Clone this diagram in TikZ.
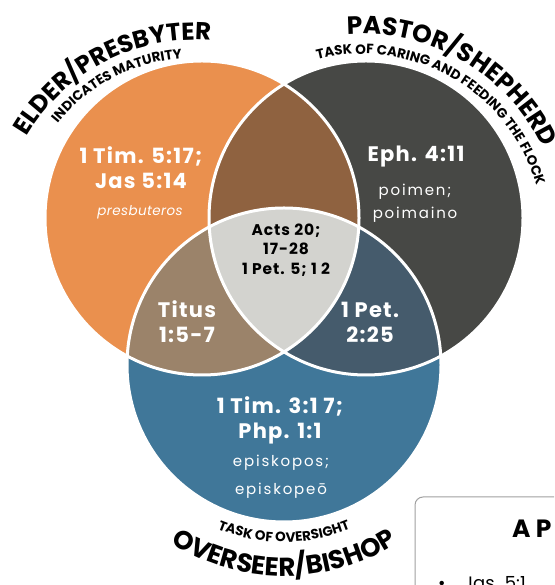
\documentclass[tikz,border=0pt]{standalone}
\usepackage{fontspec}
\setmainfont{Poppins}
\usetikzlibrary{decorations.text}
\definecolor{corange}{HTML}{EA904E}
\definecolor{cdark}{HTML}{474845}
\definecolor{cblue}{HTML}{407799}
\definecolor{cbrown}{HTML}{8F6240}
\definecolor{ctaupe}{HTML}{9B836A}
\definecolor{cslate}{HTML}{455B6C}
\definecolor{cgrey}{HTML}{D3D3CF}
\definecolor{cbox}{HTML}{A0A0A0}
\tikzset{
  reftext/.style={text=white, font=\bfseries\fontsize{21}{25}\selectfont\addfontfeatures{LetterSpace=6}, align=center, inner sep=0pt},
  centertext/.style={text=black, font=\bfseries\fontsize{15.5}{19.5}\selectfont\addfontfeatures{LetterSpace=6}, align=center, inner sep=0pt},
  wordtext/.style={text=white, font=\fontsize{15}{23}\selectfont\addfontfeatures{LetterSpace=12}, align=center, inner sep=0pt},
  ring/.style={draw=white, line width=3pt},
  bigarc/.style 2 args={decorate, decoration={text along path, text align=center,
      text={|\bfseries\fontsize{#1}{#1}\selectfont|#2}}},
  smallarc/.style={decorate, decoration={text along path, text align=center,
      text={|\fontseries{sb}\selectfont\fontsize{13.5}{14}\selectfont|#1}}},
}
\begin{document}
\begin{tikzpicture}[x=1pt,y=1pt]
\useasboundingbox (0,0) rectangle (554,585);
\clip (0,0) rectangle (554,585);
\coordinate (O) at (202,367);
\coordinate (D) at (366,367);
\coordinate (B) at (284,220);
\def\R{157}
% fills
\fill[corange] (O) circle (\R);
\fill[cdark] (D) circle (\R);
\fill[cblue] (B) circle (\R);
\begin{scope}\clip (O) circle (\R); \fill[cbrown] (D) circle (\R);\end{scope}
\begin{scope}\clip (O) circle (\R); \fill[ctaupe] (B) circle (\R);\end{scope}
\begin{scope}\clip (D) circle (\R); \fill[cslate] (B) circle (\R);\end{scope}
\begin{scope}\clip (O) circle (\R); \clip (D) circle (\R); \fill[cgrey] (B) circle (\R);\end{scope}
\draw[ring] (O) circle (\R);
\draw[ring] (D) circle (\R);
\draw[ring] (B) circle (\R);
% curved labels
\coordinate (C1) at (195,350);
\coordinate (C2) at (362,350);
\coordinate (C3) at (284,220);
\path[bigarc={24.5}{ELDER/PRESBYTER}] (C1) ++(180:195) arc[start angle=180, end angle=55, radius=195];
\path[smallarc={INDICATES MATURITY}] (C1) ++(180:177) arc[start angle=180, end angle=55, radius=177];
\path[bigarc={25}{PASTOR/SHEPHERD}] (C2) ++(125:201) arc[start angle=125, end angle=-5, radius=201];
\path[smallarc={TASK OF CARING AND FEEDING THE FLOCK}] (C2) ++(125:181) arc[start angle=125, end angle=-5, radius=181];
\path[bigarc={26}{OVERSEER/BISHOP}] (C3) ++(200:211) arc[start angle=200, end angle=340, radius=211];
\path[smallarc={TASK OF OVERSIGHT}] (C3) ++(200:177) arc[start angle=200, end angle=340, radius=177];
% inner texts
\node[reftext] (elderref) at (141,417) {1 Tim. 5:17;\\Jas 5:14};
\node[wordtext, font=\itshape\fontsize{13.5}{23}\selectfont\addfontfeatures{LetterSpace=3}] (elderword) at (140,373) {presbuteros};
\node[reftext] (pastorref) at (416,428) {Eph. 4:11};
\node[wordtext] (pastorword) at (415,382) {poimen;\\poimaino};
\node[centertext] (allref) at (286,335) {Acts 20;\\17-28\\1 Pet. 5; 1 2};
\node[reftext] (titusref) at (187,263) {Titus\\1:5-7};
\node[reftext] (peterref) at (370,263) {1 Pet.\\2:25};
\node[reftext] (bishopref) at (280,165) {1 Tim. 3:1 7;\\Php. 1:1};
\node[wordtext, font=\fontsize{15}{28}\selectfont\addfontfeatures{LetterSpace=12}] (bishopword) at (281,108) {episkopos;\\episkopeō};
% box at lower right
\draw[cbox, line width=1pt, rounded corners=8pt] (415,-20) -- (415,88) -- (600,88);
\node[anchor=base west, inner sep=0pt, font=\bfseries\fontsize{25}{25}\selectfont] (boxtitle) at (512,47) {A P};
\node[anchor=base west, inner sep=0pt, font=\fontsize{18}{18}\selectfont] (boxitem) at (438,-4.5) {•\quad Jas. 5:1};
\end{tikzpicture}
\end{document}
